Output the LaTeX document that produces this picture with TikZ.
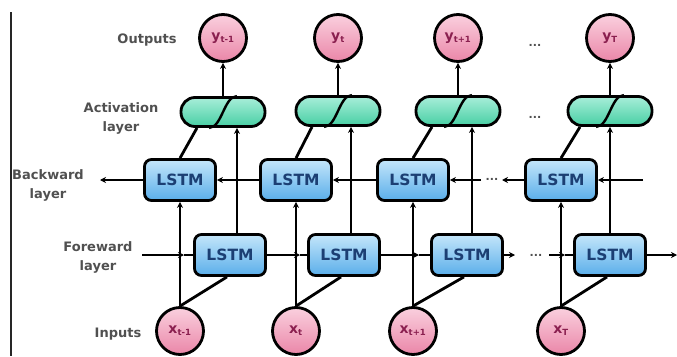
\documentclass[tikz,border=0pt]{standalone}
\usepackage{fontspec}
\setmainfont{DejaVu Sans}
\usetikzlibrary{arrows.meta,calc}
\definecolor{lblgray}{HTML}{505050}
\definecolor{lstmtext}{HTML}{1C3F73}
\definecolor{circtext}{HTML}{8A1F4F}
\definecolor{lstmtop}{HTML}{C4E6FA}
\definecolor{lstmbot}{HTML}{5AAEEA}
\definecolor{pilltop}{HTML}{A8EED9}
\definecolor{pillbot}{HTML}{48CFA4}
\definecolor{circtop}{HTML}{FAD0DE}
\definecolor{circbot}{HTML}{EA86A8}
\tikzset{
  conn/.style={line width=2.8pt,black},
  arr/.style={conn,-{Stealth[length=6pt,width=6pt]}},
  lstmbox/.style={draw=black,line width=2.8pt,rounded corners=7pt,
     minimum width=71pt,minimum height=41pt,top color=lstmtop,
     bottom color=lstmbot,text=lstmtext,
     font=\bfseries\fontsize{15.5}{15.5}\selectfont},
  pill/.style={draw=black,line width=2.8pt,rounded corners=14pt,
     minimum width=84pt,minimum height=29pt,top color=pilltop,
     bottom color=pillbot},
  circ/.style={circle,draw=black,line width=2.8pt,minimum size=47pt,
     top color=circtop,bottom color=circbot,text=circtext,inner sep=0pt,
     font=\bfseries\fontsize{14}{14}\selectfont},
  lbl/.style={text=lblgray,align=center,font=\bfseries\fontsize{13}{19}\selectfont},
  dotsl/.style={text=lblgray,font=\bfseries\fontsize{11}{11}\selectfont}
}
\newcommand{\sub}[1]{\textsubscript{\fontsize{8.5}{8.5}\selectfont\bfseries #1}}
\begin{document}
\begin{tikzpicture}[x=1pt,y=-1pt]
\useasboundingbox (0,0) rectangle (677,356);
\fill[white] (0,0) rectangle (677,356);
\draw[line width=1.6pt,black!85] (11,12) -- (11,356);

% labels
\node[lbl] (lout) at (147,40) {Outputs};
\node[lbl] (lact) at (121,118) {Activation\\layer};
\node[lbl] (lback) at (48,185) {Backward\\layer};
\node[lbl] (lfore) at (98,257) {Foreward\\layer};
\node[lbl] (lin) at (118,334) {Inputs};

% outputs
\node[circ] (y1) at (223,38) {y\sub{t-1}};
\node[circ] (y2) at (338,38) {y\sub{t}};
\node[circ] (y3) at (458,38) {y\sub{t+1}};
\node[circ] (y4) at (610,38) {y\sub{T}};
\node[dotsl] (dy) at (535,45) {...};

% pills
\node[pill] (p1) at (223,112) {};
\node[pill] (p2) at (338,111) {};
\node[pill] (p3) at (458,111) {};
\node[pill] (p4) at (610,111) {};
\node[dotsl] (dp) at (535,117) {...};
\foreach \p in {p1,p2,p3,p4}{
  \draw[line width=2.4pt] ([xshift=-14pt]\p.south) .. controls ([xshift=-1pt]\p.south) and ([xshift=1pt]\p.north) .. ([xshift=14pt]\p.north);
}

% backward
\node[lstmbox] (b1) at (180,180) {LSTM};
\node[lstmbox] (b2) at (296,180) {LSTM};
\node[lstmbox] (b3) at (413,180) {LSTM};
\node[lstmbox] (b4) at (561,180) {LSTM};
\node[dotsl] (db) at (492,179) {...};

% forward
\node[lstmbox] (f1) at (230,255) {LSTM};
\node[lstmbox] (f2) at (344,255) {LSTM};
\node[lstmbox] (f3) at (467,255) {LSTM};
\node[lstmbox] (f4) at (610,255) {LSTM};
\node[dotsl] (df) at (536,255) {...};

% inputs
\node[circ] (x1) at (180,331) {x\sub{t-1}};
\node[circ] (x2) at (296,331) {x\sub{t}};
\node[circ] (x3) at (413,331) {x\sub{t+1}};
\node[circ] (x4) at (561,331) {x\sub{T}};

% coordinates
\coordinate (fs) at (142,255);
\coordinate (c1) at (184,255);
\coordinate (c2) at (300,255);
\coordinate (c3) at (419,255);
\coordinate (e3) at (515,255);
\coordinate (s4) at (549,255);
\coordinate (c4) at (565,255);
\coordinate (fe) at (677,255);
\coordinate (bs) at (100,180);
\coordinate (d3) at (481,180);
\coordinate (e4) at (502,180);
\coordinate (br) at (643,180);

% forward chain
\draw[arr] (fs) -- (c1); \draw[conn] (c1) -- (f1.west);
\draw[arr] (f1.east) -- (c2); \draw[conn] (c2) -- (f2.west);
\draw[arr] (f2.east) -- (c3); \draw[conn] (c3) -- (f3.west);
\draw[arr] (f3.east) -- (e3);
\draw[arr] (s4) -- (c4); \draw[conn] (c4) -- (f4.west);
\draw[arr] (f4.east) -- (fe);

% backward chain
\draw[arr] (b1.west) -- (bs);
\draw[arr] (b2.west) -- (b1.east);
\draw[arr] (b3.west) -- (b2.east);
\draw[arr] (d3) -- (b3.east);
\draw[arr] (b4.west) -- (e4);
\draw[arr] (br) -- (b4.east);

% inputs to layers, pills to outputs
\foreach \i in {1,2,3,4}{
  \draw[arr] (x\i.north) -- (b\i.south);
  \draw[conn] (x\i.north) -- ([xshift=-3pt]f\i.south);
  \draw[arr] (p\i.north) -- (y\i.south);
}
\draw[conn] (b1.north) -- ([xshift=-26pt]p1.south);
\draw[conn] (b2.north) -- ([xshift=-26pt]p2.south);
\draw[conn] (b3.north) -- ([xshift=-26pt]p3.south);
\draw[conn] (b4.north) -- ([xshift=-30pt]p4.south);

% forward to pills
\draw[arr] ([xshift=7pt]f1.north) -- ([xshift=7pt]f1.north |- p1.south);
\draw[arr] ([xshift=7pt]f2.north) -- ([xshift=7pt]f2.north |- p2.south);
\draw[arr] ([xshift=5pt]f3.north) -- ([xshift=5pt]f3.north |- p3.south);
\draw[arr] (f4.north) -- (f4.north |- p4.south);
\end{tikzpicture}
\end{document}
